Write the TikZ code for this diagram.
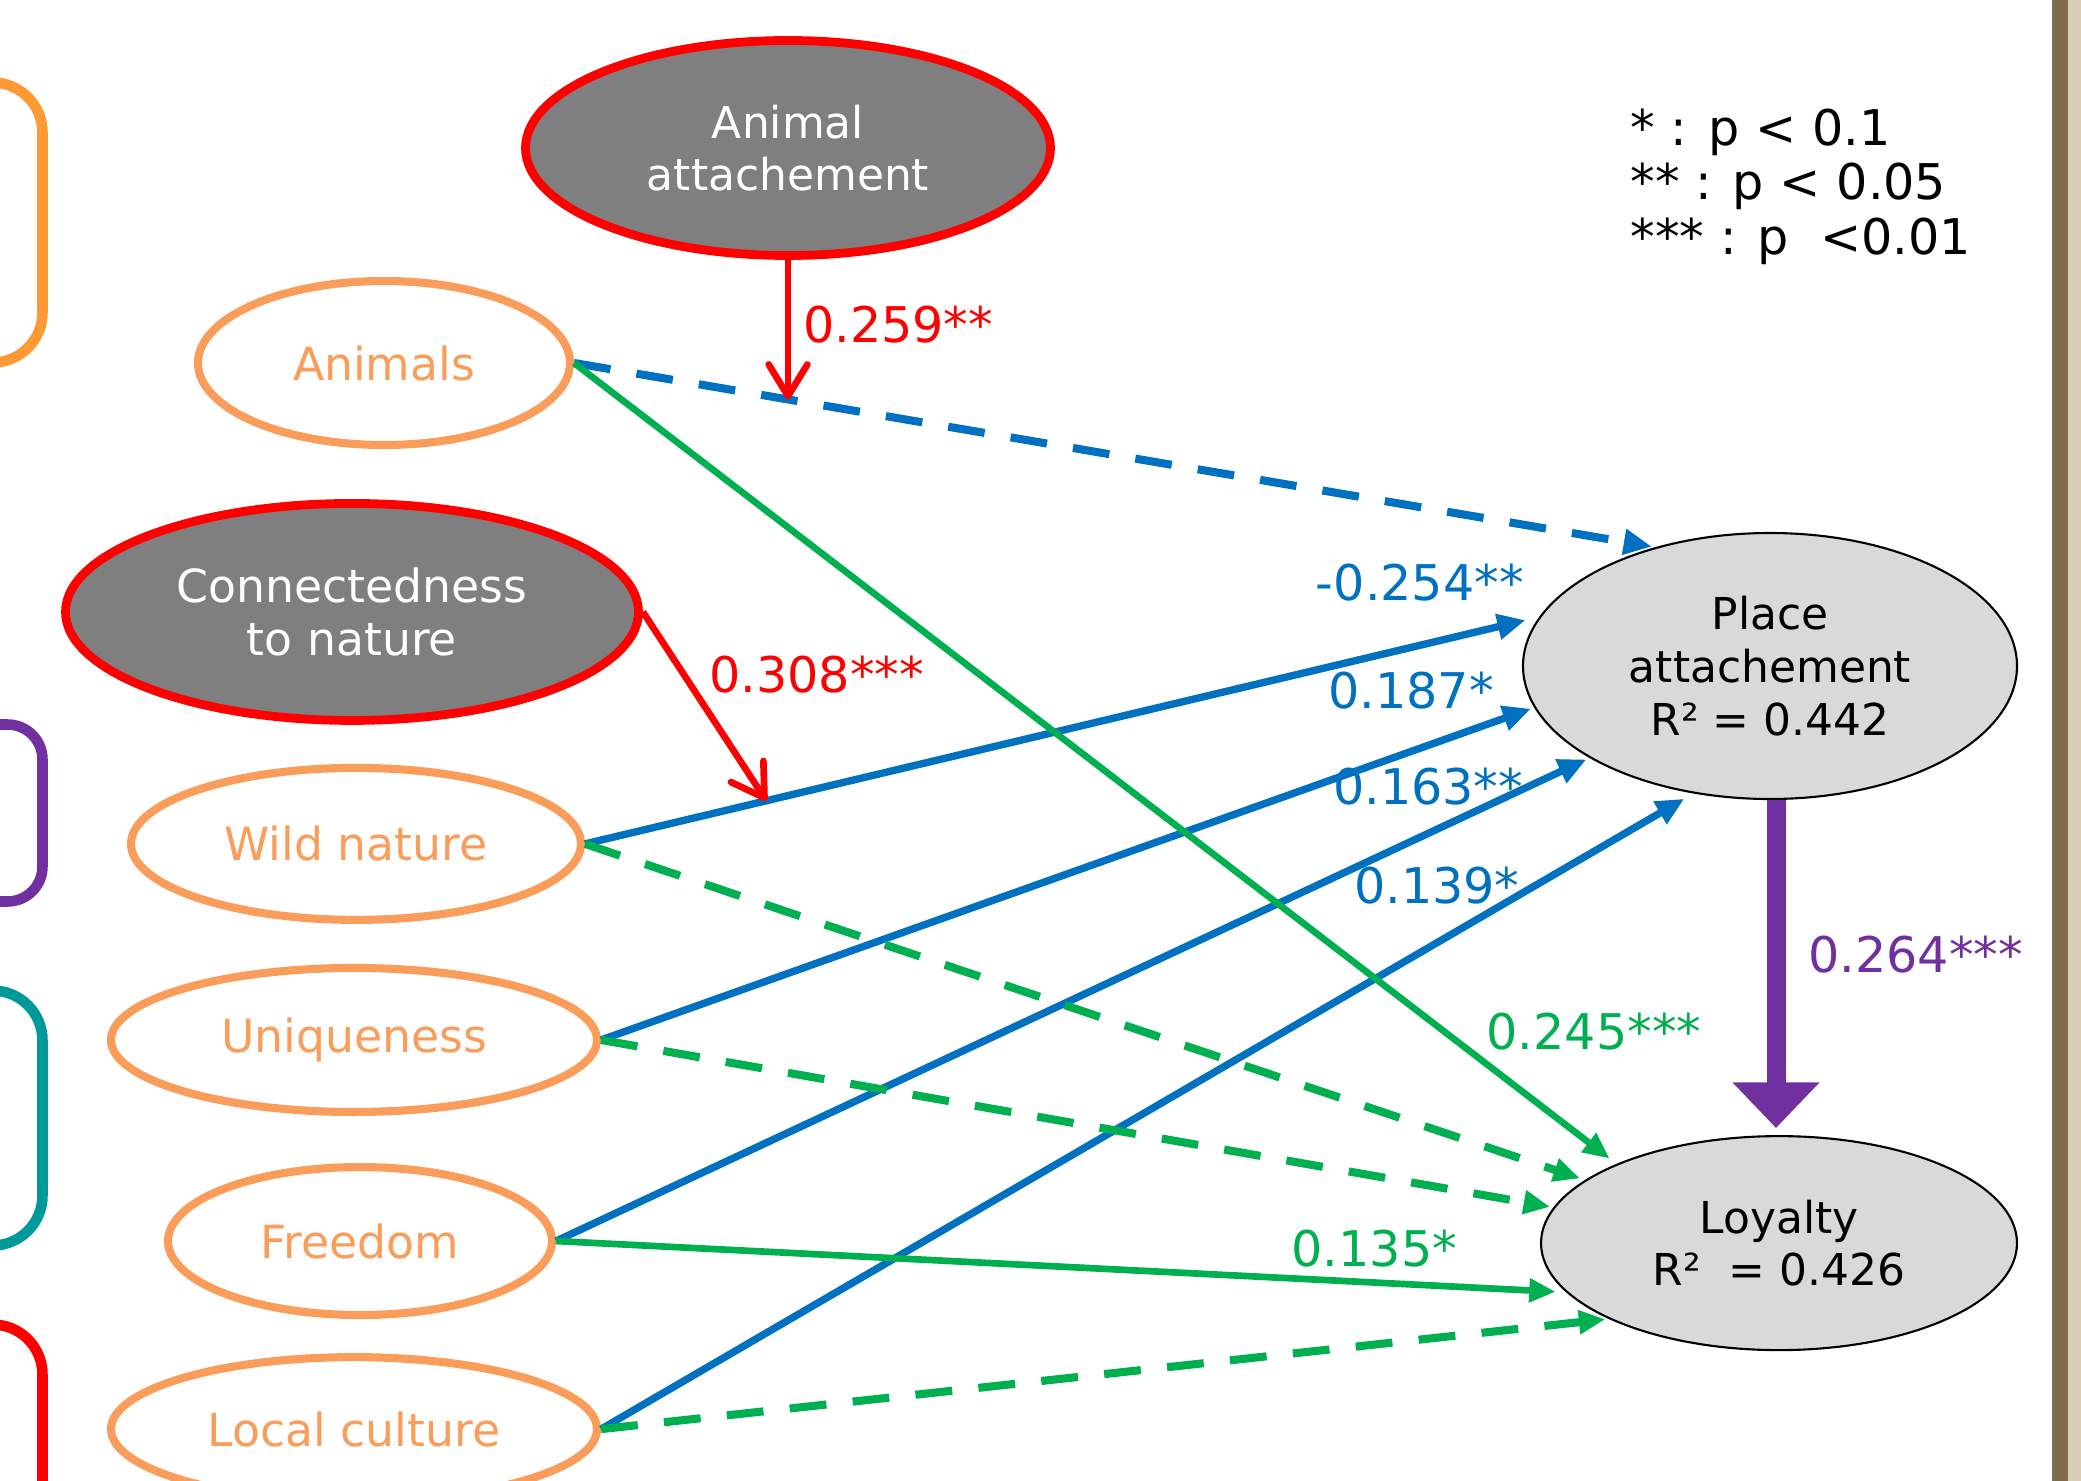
\documentclass[tikz,border=0pt]{standalone}
\usepackage{fontspec}
\setmainfont{DejaVu Sans}
\usetikzlibrary{positioning}
\usetikzlibrary{arrows.meta}
\usetikzlibrary{shapes.geometric}

\definecolor{or_text}{RGB}{250,157,90}
\definecolor{or_box}{RGB}{255,153,51}
\definecolor{pa_blue}{RGB}{0,112,192}
\definecolor{lo_green}{RGB}{0,176,80}
\definecolor{pa_purple}{RGB}{112,48,160}
\definecolor{fr_teal}{RGB}{0,153,153}
\definecolor{mod_grey}{RGB}{127,127,127}
\definecolor{out_grey}{RGB}{217,217,217}
\definecolor{frame_brown}{RGB}{127,106,75}
\definecolor{frame_beige}{RGB}{216,206,182}

\begin{document}
\begin{tikzpicture}[font=\fontsize{13}{15}\selectfont]
        \tikzstyle{in_style} = [ellipse, draw=or_text, line width=2.3pt, text=or_text, inner sep=0pt]
        \tikzstyle{mod_style} = [ellipse, draw=red, fill=mod_grey, line width=2.5pt, text=white, inner sep=0pt, align=center]
        \tikzstyle{out_style} = [ellipse, draw=black, fill=out_grey, line width=0.6pt, inner sep=0pt, align=center, font=\fontsize{12.5}{15}\selectfont]
        \tikzstyle{coef_style} = [font=\fontsize{14}{15.5}\selectfont]
        \tikzstyle{box_style} = [line width=3pt, rounded corners=0.5cm]
        \tikzstyle{arrow_blue} = [->, pa_blue, line width=2.1pt, >={Triangle[length=8pt,width=7pt]}]
        \tikzstyle{arrow_green} = [->, lo_green, line width=1.9pt, >={Triangle[length=7.5pt,width=6.5pt]}]
        \tikzstyle{arrow_red} = [->, red, line width=1.9pt, >={Straight Barb[length=9pt,width=11pt,round]}]
        \tikzstyle{arrow_purple} = [->, pa_purple, line width=5.4pt, >={Triangle[length=13pt,width=24pt]}, shorten >=2pt]
        \tikzstyle{dash_style} = [dash pattern=on 10.5pt off 7.5pt, line width=2.3pt]

        \useasboundingbox (0,0) rectangle (20.81,-14.81);
        \clip (0,0) rectangle (20.81,-14.81);

        % slide frame and side brackets
        \fill[frame_brown] (20.52,0) rectangle (20.68,-14.81);
        \fill[frame_beige] (20.68,0) rectangle (20.81,-14.81);
        \draw[box_style, or_box] (-1,-0.825) rectangle (0.425,-3.625);
        \draw[box_style, pa_purple, rounded corners=0.35cm] (-1,-7.245) rectangle (0.425,-9.015);
        \draw[box_style, fr_teal] (-1,-9.905) rectangle (0.425,-12.455);
        \draw[box_style, red] (-1,-13.245) rectangle (0.425,-16);

        \node[mod_style, minimum width=5.25cm, minimum height=2.15cm, font=\fontsize{12.5}{15}\selectfont] (n0) at (7.88,-1.48) {Animal\\attachement};
        \node[in_style, minimum width=3.72cm, minimum height=1.64cm] (n1) at (3.84,-3.63) {Animals};
        \node[mod_style, minimum width=5.73cm, minimum height=2.17cm] (n2) [below=0.50cm of n1, xshift=-3.2mm] {Connectedness\\to nature};
        \node[in_style, minimum width=4.50cm, minimum height=1.52cm] (n3) [below=0.39cm of n2, xshift=0.4mm] {Wild nature};
        \node[in_style, minimum width=4.86cm, minimum height=1.44cm] (n4) [below=0.40cm of n3, xshift=-0.2mm] {Uniqueness};
        \node[in_style, minimum width=3.84cm, minimum height=1.48cm] (n5) [below=0.47cm of n4, xshift=0.6mm] {Freedom};
        \node[in_style, minimum width=4.86cm, minimum height=1.44cm] (n6) [below=0.34cm of n5, xshift=-0.6mm] {Local culture};

        \node[out_style, minimum width=4.94cm, minimum height=2.66cm] (pa) at (17.70,-6.66) {Place\\attachement\\R² = 0.442};
        \node[out_style, minimum width=4.76cm, minimum height=2.14cm] (lo) [below=3.35cm of pa, xshift=0.9mm] {Loyalty\\R²~ = 0.426};

        \node[coef_style, align=left, anchor=north west, inner sep=0pt] (key) at (16.30,-1.08) {* : p < 0.1\\** : p < 0.05\\*** : p~ <0.01};

        % paths to place attachement
        \draw[arrow_blue, dash_style, shorten >=1pt] (n1.east) -- (pa.134) coordinate[pos=0.198] (m1);
        \draw[arrow_blue, shorten >=4pt] (n3.east) -- (pa.168) coordinate[pos=0.19] (m2)
            node[pos=1, anchor=south east, coef_style] {-0.254**};
        \draw[arrow_blue, shorten >=1pt] (n4.east) -- (pa.190)
            node[pos=1, anchor=east, xshift=-0.25cm, yshift=0.17cm, coef_style] {0.187*};
        \draw[arrow_blue, shorten >=1pt] (n5.east) -- (pa.207)
            node[pos=0.94, anchor=east, xshift=0.11cm, coef_style] {0.163**};
        \draw[arrow_blue, shorten >=3pt] (n6.east) -- (pa.239)
            node[pos=0.855, anchor=east, coef_style] {0.139*};

        % paths to loyalty
        \draw[arrow_green, shorten >=2.5pt] (n1.east) -- (lo.154)
            node[pos=0.835, anchor=west, xshift=0.27cm, coef_style] {0.245***};
        \draw[arrow_green, dash_style, shorten >=1.5pt] (n3.east) -- (lo.162);
        \draw[arrow_green, dash_style, shorten >=1pt] (n4.east) -- (lo.171);
        \draw[arrow_green, shorten >=3pt] (n5.east) -- (lo.193)
            node[pos=0.81, anchor=south, coef_style] {0.135*};
        \draw[arrow_green, dash_style, shorten >=1pt] (n6.east) -- (lo.204);

        % moderators
        \draw[arrow_red] (n0.south) -- (n0.south |- m1)
            node[pos=0.46, anchor=west, coef_style] {0.259**};
        \draw[arrow_red] (n2.east) -- (m2)
            node[pos=0.33, anchor=west, xshift=3pt, coef_style] {0.308***};

        \draw[arrow_purple] ([xshift=0.6mm]pa.south) -- ([xshift=0.6mm]pa.south |- lo.north)
            node[pos=0.5, anchor=west, xshift=0.11cm, yshift=0.13cm, coef_style] {0.264***};

    \end{tikzpicture}
\end{document}
